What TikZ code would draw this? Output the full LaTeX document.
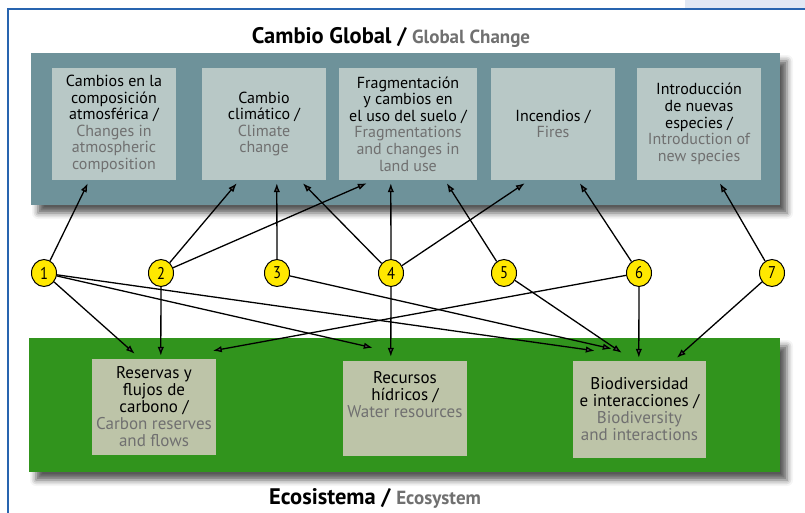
\documentclass[tikz,border=0pt]{standalone}
\usepackage{fontspec}
\setmainfont{PT Sans}
\newfontfamily\narrowfont[FakeStretch=0.86]{PT Sans}
\usetikzlibrary{arrows.meta, calc, shapes.geometric, shadows.blur}
\definecolor{panelteal}{RGB}{110,146,154}
\definecolor{boxgrey}{RGB}{184,200,198}
\definecolor{panelgreen}{RGB}{49,148,29}
\definecolor{boxolive}{RGB}{189,196,168}
\definecolor{numyellow}{RGB}{255,232,0}
\definecolor{engrey}{RGB}{112,112,112}
\definecolor{frameblue}{RGB}{40,100,175}
\definecolor{tabblue}{RGB}{225,232,244}
\newcommand{\en}[1]{{\color{engrey}#1}}

\begin{document}
\begin{tikzpicture}[x=1pt, y=-1pt,
  panel/.style={blur shadow={shadow xshift=7pt, shadow yshift=-8pt, shadow blur radius=6pt, shadow opacity=65}},
  topbox/.style={fill=boxgrey, minimum width=124pt, minimum height=112pt, inner sep=1pt, align=center, font=\fontsize{16}{16.6}\selectfont},
  ecobox/.style={fill=boxolive, minimum width=124pt, minimum height=96pt, inner sep=1pt, align=center, font=\fontsize{17}{17}\selectfont},
  num/.style={ellipse, draw=black, line width=1pt, fill=numyellow, minimum width=25pt, minimum height=27pt, inner sep=0pt, font=\narrowfont\fontsize{17}{17}\selectfont},
  link/.style={-{Latex[length=9pt,width=6.5pt]}, line width=1.3pt},
  heading/.style={font=\bfseries\fontsize{22.5}{22}\selectfont}]
\useasboundingbox (0,0) rectangle (805,513);
\fill[tabblue] (685,0) rectangle (805,8);
\draw[frameblue, line width=1.5pt] (8,513) -- (8,9) -- (805,9);

\path (391,37) node[heading] (global) {Cambio Global / {\color{engrey}\fontsize{19}{19}\selectfont Global Change}};
\path (375,498) node[heading] (eco) {Ecosistema / {\color{engrey}\fontsize{19}{19}\selectfont Ecosystem}};

\fill[panel, panelteal] (31,53) rectangle (780,205);
\fill[panel, panelgreen] (29,338) rectangle (780,472);

\node[topbox] (cA) at (114,124) {Cambios en la\\composición\\atmosférica /\\\en{Changes in}\\\en{atmospheric}\\\en{composition}};
\node[topbox] (cB) at (264,124) {Cambio\\climático /\\\en{Climate}\\\en{change}};
\node[topbox, minimum width=138pt] (cC) at (408,124) {Fragmentación\\y cambios en\\el uso del suelo /\\\en{Fragmentations}\\\en{and changes in}\\\en{land use}};
\node[topbox] (cD) at (553,124) {Incendios /\\\en{Fires}};
\node[topbox] (cE) at (699,124) {Introducción\\de nuevas\\especies /\\\en{Introduction of}\\\en{new species}};

\node[ecobox] (eR) at (154,407) {Reservas y\\flujos de\\carbono /\\\en{Carbon reserves}\\\en{and flows}};
\node[ecobox, minimum height=95pt] (eW) at (405,408.5) {Recursos\\hídricos /\\\en{Water resources}\\[12pt]};
\node[ecobox, minimum width=133pt, minimum height=97pt] (eB) at (639.5,409.5) {Biodiversidad\\e interacciones /\\\en{Biodiversity}\\\en{and interactions}};

\foreach \i/\x in {1/44, 2/161, 3/277, 4/391, 5/504, 6/639, 7/772}
  \node[num] (n\i) at (\x,273) {\i};

\draw[link] (n1) -- ($(cA.south west)+(36,3)$);
\draw[link] (n2) -- ($(cB.south west)+(35,3)$);
\draw[link] (n2) -- ($(cC.south west)+(28,3)$);
\draw[link] (n3) -- ($(cB.south west)+(75,3)$);
\draw[link] (n4) -- ($(cB.south west)+(101,3)$);
\draw[link] (n4) -- ($(cC.south west)+(52,3)$);
\draw[link] (n4) -- ($(cD.south west)+(34,3)$);
\draw[link] (n5) -- ($(cC.south west)+(108,3)$);
\draw[link] (n6) -- ($(cD.south west)+(89,3)$);
\draw[link] (n7) -- ($(cE.south west)+(83,3)$);

\draw[link] (n1) -- ($(eR.north west)+(43,-5)$);
\draw[link] (n2) -- ($(eR.north west)+(69,-3)$);
\draw[link] (n6) -- ($(eR.north west)+(121,-8)$);
\draw[link] (n1) -- ($(eW.north west)+(30,-13)$);
\draw[link] (n4) -- ($(eW.north west)+(48,-4)$);
\draw[link] (n1) -- ($(eB.north west)+(22,-10)$);
\draw[link] (n3) -- ($(eB.north west)+(39,-12)$);
\draw[link] (n5) -- ($(eB.north west)+(49,-8)$);
\draw[link] (n6) -- ($(eB.north west)+(66,-3)$);
\draw[link] (n7) -- ($(eB.north west)+(104,-3)$);
\end{tikzpicture}
\end{document}
